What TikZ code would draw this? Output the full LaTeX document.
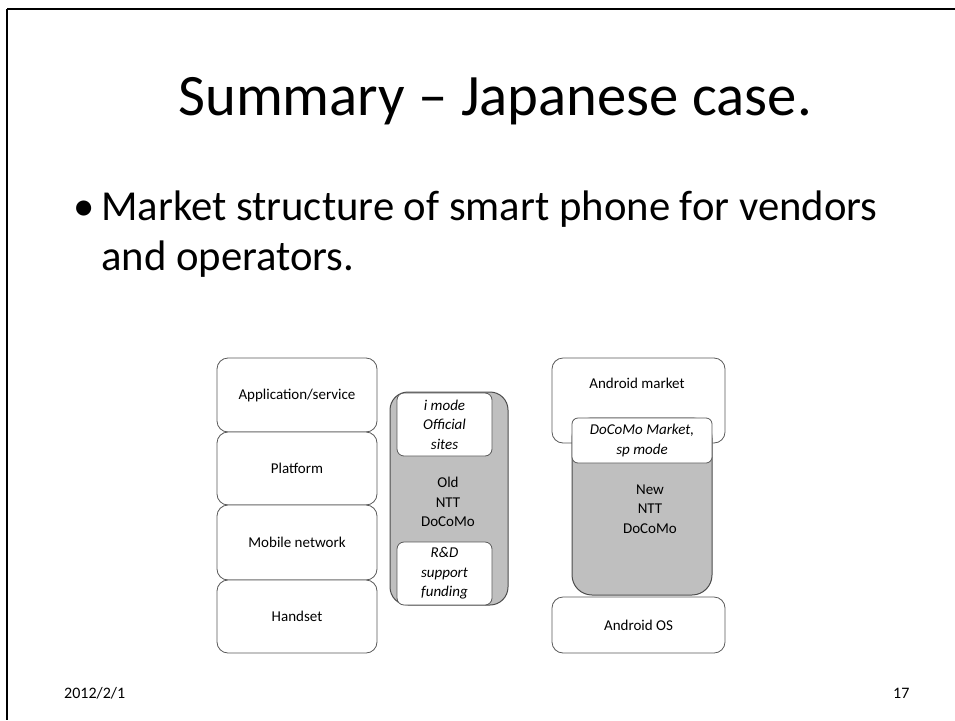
\documentclass[tikz,border=0pt]{standalone}
\usepackage{fontspec}
\setmainfont{Carlito}
\begin{document}
\begin{tikzpicture}[x=1pt,y=-1pt,
  layer/.style={draw=black!65, line width=0.8pt, fill=white, rounded corners=11pt, inner sep=0pt},
  inner/.style={draw=black!65, line width=0.8pt, fill=white, rounded corners=7pt, inner sep=0pt},
  grayblk/.style={draw=black!70, line width=1pt, fill=black!25, inner sep=0pt},
  dtext/.style={inner sep=0pt, font=\fontsize{15}{19.5}\selectfont, align=center},
  itext/.style={inner sep=0pt, font=\fontsize{15}{19.5}\selectfont\itshape, align=center},
  plain/.style={inner sep=0pt, anchor=base west}]
\useasboundingbox (0,0) rectangle (955,720);
% slide frame
\draw[line width=2.8pt] (7,9) -- (955,9);
\draw[line width=2.8pt] (7,9) -- (7,720);
% title
\node[inner sep=0pt, anchor=base, font=\fontsize{58.7}{70}\selectfont] (title) at (495,115) {Summary – Japanese case.};
% bullet
\node[plain, font=\fontsize{42.7}{52}\selectfont] (bul) at (73,220) {•};
\node[plain, font=\fontsize{42.7}{52}\selectfont] (b1) at (101,220) {Market structure of smart phone for vendors};
\node[plain, font=\fontsize{42.7}{52}\selectfont] (b2) at (101,270) {and operators.};
% left stack
\node[layer, minimum width=160pt, minimum height=74pt] (app) at (297,395) {};
\node[dtext] at (app.center) {Application/service};
\node[layer, minimum width=160pt, minimum height=73pt] (plat) at (297,468.5) {};
\node[dtext] at (plat.center) {Platform};
\node[layer, minimum width=160pt, minimum height=75pt] (mob) at (297,542.5) {};
\node[dtext] at (mob.center) {Mobile network};
\node[layer, minimum width=160pt, minimum height=73pt] (hand) at (297,616.5) {};
\node[dtext] at (hand.center) {Handset};
% old docomo
\node[grayblk, rounded corners=18pt, minimum width=118pt, minimum height=213pt] (old) at (449,498.5) {};
\node[inner, minimum width=95pt, minimum height=63pt] (imode) at (444.5,424.5) {};
\node[itext] at (imode.center) {i mode\\Official\\sites};
\node[dtext] (oldtxt) at (448,502) {Old\\NTT\\DoCoMo};
\node[inner, minimum width=95pt, minimum height=63pt] (rd) at (444.5,573.5) {};
\node[itext] at (rd.center) {R\&D\\support\\funding};
% right stack
\node[layer, minimum width=173pt, minimum height=85pt] (amk) at (638.5,400.5) {};
\node[dtext] (amktxt) at (637,383) {Android market};
\node[grayblk, rounded corners=20pt, minimum width=140pt, minimum height=177pt] (new) at (642,506.5) {};
\node[inner, rounded corners=6pt, minimum width=140pt, minimum height=45pt] (dmk) at (642,440.5) {};
\node[itext] at (dmk.center) {DoCoMo Market,\\sp mode};
\node[dtext] (newtxt) at (650,509) {New\\NTT\\DoCoMo};
\node[layer, minimum width=173pt, minimum height=56pt] (aos) at (638.5,625) {};
\node[dtext] at (aos.center) {Android OS};
% footer
\node[plain, font=\fontsize{16}{19}\selectfont] (date) at (64,698) {2012/2/1};
\node[plain, font=\fontsize{16}{19}\selectfont] (page) at (893,698) {17};
\end{tikzpicture}
\end{document}
